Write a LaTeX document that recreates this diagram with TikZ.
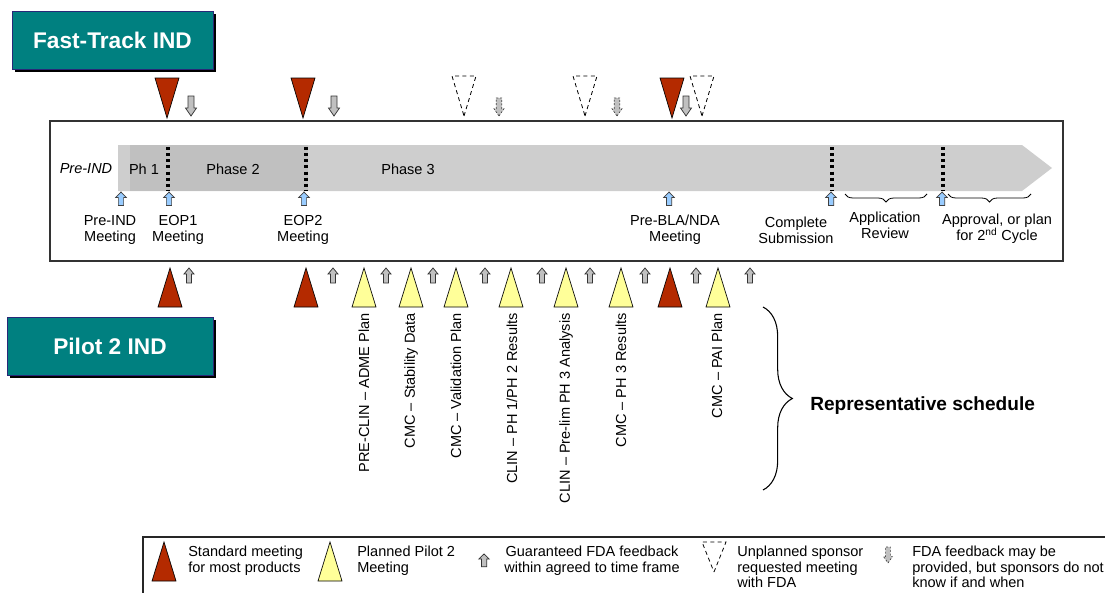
\documentclass[tikz,border=0pt]{standalone}
\usepackage{fontspec}
\setmainfont{Liberation Sans}
\usetikzlibrary{decorations.pathreplacing,shadows}

\definecolor{teal1}{RGB}{0,128,128}
\definecolor{boxedge}{RGB}{40,40,120}
\definecolor{stdred}{RGB}{180,42,0}
\definecolor{pilotyellow}{RGB}{255,255,153}
\definecolor{fbgray}{RGB}{192,192,192}
\definecolor{mtgblue}{RGB}{153,204,255}
\definecolor{barlight}{RGB}{206,206,206}
\definecolor{bardark}{RGB}{192,192,192}

\tikzset{
  txt/.style={font=\fontsize{10.9}{12.2}\selectfont, inner sep=0pt, align=center},
  legtxt/.style={txt, align=left, anchor=west},
  titlebox/.style={fill=teal1, draw=boxedge, line width=0.6pt, text=white,
    font=\fontsize{17}{20}\selectfont\bfseries, minimum height=43.5pt,
    drop shadow={shadow xshift=2.3pt, shadow yshift=-2.3pt, fill=black, opacity=1}},
  stdmtg/.style={fill=stdred, draw=black, line width=0.5pt},
  pilotmtg/.style={fill=pilotyellow, draw=black, line width=0.5pt},
  sponsormtg/.style={fill=white, draw=black, line width=0.6pt, dash pattern=on 3pt off 2.5pt},
  fbsure/.style={fill=fbgray, draw=black!80, line width=0.55pt},
  fbmaybe/.style={fill=fbgray, draw=black!75, line width=0.5pt, dash pattern=on 1.5pt off 1.2pt},
  mtgarrow/.style={fill=mtgblue, draw=black!75, line width=0.55pt},
  phaseline/.style={line width=2.3pt, dash pattern=on 2.3pt off 2.3pt},
  tri up/.pic={\path[pic actions] (0,0) -- (12,39) -- (-12,39) -- cycle;},
  tri down/.pic={\path[pic actions] (0,0) -- (12,-40) -- (-12,-40) -- cycle;},
  arr up/.pic={\path[pic actions] (0,0) -- (5,6) -- (2.5,6) -- (2.5,15) -- (-2.5,15) -- (-2.5,6) -- (-5,6) -- cycle;},
  arr down/.pic={\path[pic actions] (0,0) -- (5.5,-8) -- (3,-8) -- (3,-20) -- (-3,-20) -- (-3,-8) -- (-5.5,-8) -- cycle;},
}

\begin{document}
\begin{tikzpicture}[x=0.75pt, y=-0.75pt]
\useasboundingbox (0,0) rectangle (1105,592);

% title boxes
\node[titlebox, minimum width=150.75pt] (fasttrack) at (112.5,40) {Fast-Track IND};
\node[titlebox, minimum width=154.5pt] (pilot) at (110,346) {Pilot 2 IND};

% main frame
\draw[line width=1pt, draw=black!80] (50,121) rectangle (1063,261);

% phase bar
\fill[barlight] (118,145) -- (1022,145) -- (1052,168) -- (1022,191) -- (118,191) -- cycle;
\fill[bardark] (130,145) rectangle (308,191);

\node[txt, font=\fontsize{10.9}{12.2}\selectfont\itshape] (preindph) at (86,169) {Pre-IND};
\node[txt] (ph1) at (144,169) {Ph 1};
\node[txt] (ph2) at (233,169) {Phase 2};
\node[txt] (ph3) at (408,169) {Phase 3};

% phase boundaries
\foreach \x in {168,306,832,943}
  \draw[phaseline] (\x,147) -- (\x,190);

% milestone arrows and labels
\foreach \x in {121,169,304,669,831,942}
  \pic[mtgarrow, xscale=1.05, yscale=0.9] at (\x,192) {arr up};

\node[txt] (mpreind) at (110,230) {Pre-IND\\Meeting};
\node[txt] (meop1) at (178,230) {EOP1\\Meeting};
\node[txt] (meop2) at (303,230) {EOP2\\Meeting};
\node[txt] (mprebla) at (675,230) {Pre-BLA/NDA\\Meeting};
\node[txt] (msubmit) at (796,230) {Complete\\Submission};
\node[txt] (mreview) at (885,225) {Application\\Review};
\node[txt] (mapprove) at (997,229) {Approval, or plan\\for 2\textsuperscript{nd} Cycle};

\draw[decorate, decoration={brace, amplitude=6pt, mirror}, line width=0.6pt] (845,194) -- (927,194);
\draw[decorate, decoration={brace, amplitude=6pt, mirror}, line width=0.6pt] (948,194) -- (1031,194);

% fast-track meetings (above the frame)
\foreach \x in {167,303,672}
  \pic[stdmtg] at (\x,118) {tri down};
\foreach \x in {464,585,702}
  \pic[sponsormtg] at (\x,116) {tri down};
\foreach \x in {191,334,686}
  \pic[fbsure] at (\x,116) {arr down};
\foreach \x in {499,617}
  \pic[fbmaybe, scale=0.9] at (\x,116) {arr down};

% pilot 2 meetings (below the frame)
\foreach \x in {170,306,670}
  \pic[stdmtg] at (\x,268) {tri up};
\foreach \x in {364,411,456,511,566,621,718}
  \pic[pilotmtg] at (\x,268) {tri up};
\foreach \x in {189,333,386,433,485,542,590,645,696,750}
  \pic[fbsure] at (\x,268) {arr up};

\node[txt, rotate=90, anchor=east] (t1) at (364,313) {PRE-CLIN – ADME Plan};
\node[txt, rotate=90, anchor=east] (t2) at (411,313) {CMC – Stability Data};
\node[txt, rotate=90, anchor=east] (t3) at (456,313) {CMC – Validation Plan};
\node[txt, rotate=90, anchor=east] (t4) at (512,313) {CLIN – PH 1/PH 2 Results};
\node[txt, rotate=90, anchor=east] (t5) at (566,313) {CLIN – Pre-lim PH 3 Analysis};
\node[txt, rotate=90, anchor=east] (t6) at (621,313) {CMC – PH 3 Results};
\node[txt, rotate=90, anchor=east] (t7) at (717,313) {CMC – PAI Plan};

\draw[decorate, decoration={brace, amplitude=22pt}, line width=0.8pt] (763,307) -- (763,490);
\node[anchor=west, inner sep=0pt, font=\fontsize{14.3}{16}\selectfont\bfseries] (rep) at (810,406) {Representative schedule};

% legend
\draw[line width=1pt, draw=black!85] (1110,537) -- (143,537) -- (143,600);
\pic[stdmtg] at (164,542) {tri up};
\node[legtxt] (lg1) at (188,561) {Standard meeting\\for most products};
\pic[pilotmtg] at (330,542) {tri up};
\node[legtxt] (lg2) at (357,561) {Planned Pilot 2\\Meeting};
\pic[fbsure, yscale=0.85, xscale=1.05] at (484,554) {arr up};
\node[txt] (lg3) at (592,561) {Guaranteed FDA feedback\\within agreed to time frame};
\pic[sponsormtg, yscale=0.75] at (714,572) {tri down};
\node[legtxt, font=\fontsize{10.9}{11.6}\selectfont] (lg4) at (737,567) {Unplanned sponsor\\requested meeting\\with FDA};
\pic[fbmaybe, scale=0.8] at (888,563) {arr down};
\node[legtxt, font=\fontsize{10.9}{11.6}\selectfont] (lg5) at (912,567) {FDA feedback may be\\provided, but sponsors do not\\know if and when};
\end{tikzpicture}
\end{document}
